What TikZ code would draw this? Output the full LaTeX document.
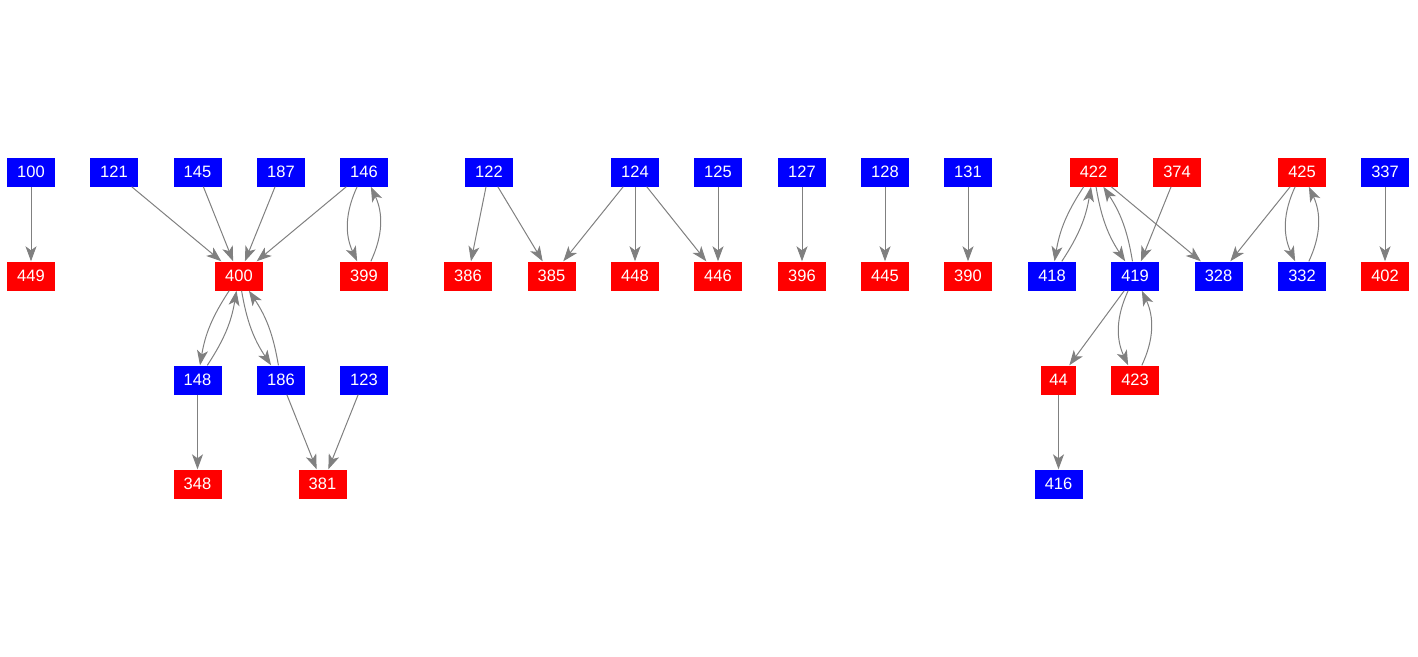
\documentclass[tikz,border=0pt]{standalone}
\usepackage{fontspec}
\setmainfont{Liberation Sans}
\usetikzlibrary{arrows.meta}
\definecolor{nodeblue}{RGB}{0,0,255}
\definecolor{nodered}{RGB}{255,0,0}
\definecolor{edgegray}{RGB}{128,128,128}

\begin{document}
\begin{tikzpicture}[x=1pt,y=-1pt]
        \tikzstyle{every node} = [rectangle, text=white, inner sep=0pt, minimum width=48pt, minimum height=29pt, font=\fontsize{16.5}{18}\selectfont]
        \tikzstyle{bl} = [fill=nodeblue]
        \tikzstyle{rd} = [fill=nodered]
        \tikzstyle{edge} = [draw=edgegray, line width=1pt, -{Stealth[length=15pt,width=11pt,inset=4pt]}]
        \useasboundingbox (0,0) rectangle (1418,656);
        % left group
        \node[bl] (n100) at (31,172) {100};
        \node[rd] (n449) at (31,276) {449};
        \node[bl] (n121) at (114,172) {121};
        \node[bl] (n145) at (197.5,172) {145};
        \node[bl] (n187) at (281,172) {187};
        \node[bl] (n146) at (364,172) {146};
        \node[rd] (n400) at (239,276) {400};
        \node[rd] (n399) at (364,276) {399};
        \node[bl] (n148) at (197.5,380) {148};
        \node[bl] (n186) at (281,380) {186};
        \node[bl] (n123) at (364,380) {123};
        \node[rd] (n348) at (197.5,484) {348};
        \node[rd] (n381) at (322.5,484) {381};
        % middle group
        \node[bl] (n122) at (489,172) {122};
        \node[bl] (n124) at (635,172) {124};
        \node[bl] (n125) at (718,172) {125};
        \node[rd] (n386) at (468,276) {386};
        \node[rd] (n385) at (551.5,276) {385};
        \node[rd] (n448) at (635,276) {448};
        \node[rd] (n446) at (718,276) {446};
        \node[bl] (n127) at (802,172) {127};
        \node[rd] (n396) at (802,276) {396};
        \node[bl] (n128) at (885,172) {128};
        \node[rd] (n445) at (885,276) {445};
        \node[bl] (n131) at (968,172) {131};
        \node[rd] (n390) at (968,276) {390};
        % right group
        \node[rd] (n422) at (1093.5,172) {422};
        \node[rd] (n374) at (1177,172) {374};
        \node[rd] (n425) at (1302,172) {425};
        \node[bl] (n337) at (1385,172) {337};
        \node[bl] (n418) at (1052,276) {418};
        \node[bl] (n419) at (1135,276) {419};
        \node[bl] (n328) at (1218.5,276) {328};
        \node[bl] (n332) at (1302,276) {332};
        \node[rd] (n402) at (1385,276) {402};
        \node[rd, minimum width=35pt] (n44) at (1058.5,380) {44};
        \node[rd] (n423) at (1135,380) {423};
        \node[bl] (n416) at (1058.5,484) {416};
        \foreach \from/\to in {n100/n449, n121/n400, n145/n400, n187/n400, n146/n400,
            n148/n348, n186/n381, n123/n381, n122/n386, n122/n385, n124/n385,
            n124/n448, n124/n446, n125/n446, n127/n396, n128/n445, n131/n390,
            n422/n328, n374/n419, n425/n328, n337/n402, n419/n44, n44/n416}
            \draw[edge] (\from) -- (\to);
        \foreach \from/\to in {n146/n399, n399/n146, n425/n332, n332/n425, n419/n423, n423/n419}
            \draw[edge] (\from) to[bend right=25] (\to);
        \foreach \from/\to in {n400/n148, n148/n400, n400/n186, n186/n400,
            n422/n418, n418/n422, n422/n419, n419/n422}
            \draw[edge] (\from) to[bend right=12] (\to);
\end{tikzpicture}
\end{document}
